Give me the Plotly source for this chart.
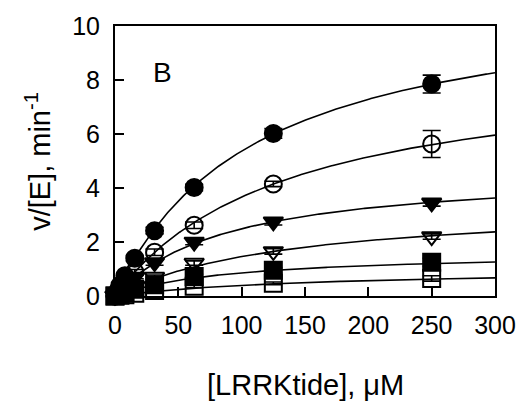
import numpy as np
import plotly.graph_objects as go

# substrate concentrations (uM)
conc = [0, 3.9, 7.8, 15.6, 31.25, 62.5, 125, 250]

# v/[E] values (min^-1) per series
filled_circle = [0.0, 0.40, 0.75, 1.40, 2.42, 4.02, 6.02, 7.85]
open_circle = [0.0, 0.25, 0.48, 0.90, 1.62, 2.62, 4.15, 5.63]
filled_tri = [0.0, 0.20, 0.38, 0.70, 1.24, 2.00, 2.75, 3.45]
open_tri = [0.0, 0.10, 0.19, 0.36, 0.70, 1.22, 1.65, 2.20]
filled_sq = [0.0, 0.07, 0.13, 0.25, 0.42, 0.72, 0.95, 1.25]
open_sq = [0.0, 0.03, 0.05, 0.10, 0.20, 0.36, 0.47, 0.65]

# error bars
err_fc = [0.05, 0.05, 0.08, 0.10, 0.12, 0.12, 0.18, 0.33]
err_oc = [0.05, 0.05, 0.06, 0.08, 0.12, 0.12, 0.10, 0.50]
err_ft = [0.05, 0.05, 0.05, 0.06, 0.10, 0.10, 0.12, 0.12]
err_ot = [0.03, 0.03, 0.04, 0.05, 0.08, 0.08, 0.10, 0.10]
err_fs = [0.03, 0.03, 0.04, 0.05, 0.06, 0.08, 0.10, 0.15]
err_os = [0.03, 0.03, 0.03, 0.04, 0.05, 0.05, 0.05, 0.10]

# Michaelis-Menten fit parameters (Vmax, Km)
vmax = [11.33, 8.66, 4.71, 3.45, 1.64, 1.03]
km = [111, 136, 89, 136, 91, 161]

x_ticks = [0, 50, 100, 150, 200, 250, 300]
y_ticks = [0, 2, 4, 6, 8, 10]

series = [
    (filled_circle, err_fc, "circle"),
    (open_circle, err_oc, "circle-open"),
    (filled_tri, err_ft, "triangle-down"),
    (open_tri, err_ot, "triangle-down-open"),
    (filled_sq, err_fs, "square"),
    (open_sq, err_os, "square-open"),
]

fig = go.Figure()

xs = np.linspace(0, 300, 301)
for V, K in zip(vmax, km):
    fig.add_trace(go.Scatter(x=xs, y=V * xs / (K + xs), mode="lines",
                             line=dict(color="black", width=1.6),
                             showlegend=False, hoverinfo="skip"))

for ys, es, sym in series:
    fig.add_trace(go.Scatter(
        x=conc, y=ys, mode="markers",
        marker=dict(symbol=sym, size=17, color="black",
                    line=dict(color="black", width=2)),
        error_y=dict(type="data", array=es, visible=True, color="black",
                     thickness=1.6, width=9),
        showlegend=False, cliponaxis=False))

font_family = "Liberation Sans, Arial, sans-serif"

fig.update_layout(
    width=528, height=407,
    margin=dict(l=115, r=29, t=26, b=111),
    paper_bgcolor="white", plot_bgcolor="white",
    font=dict(family=font_family, color="black", size=25),
    xaxis=dict(range=[0, 300], tickvals=x_ticks,
               ticks="inside", ticklen=9, tickwidth=1.6, tickcolor="black",
               showline=True, linecolor="black", linewidth=2, mirror=True,
               showgrid=False, zeroline=False, ticklabelstandoff=6,
               tickfont=dict(size=25)),
    yaxis=dict(range=[0, 10], tickvals=y_ticks,
               ticks="inside", ticklen=9, tickwidth=1.6, tickcolor="black",
               showline=True, linecolor="black", linewidth=2, mirror=True,
               showgrid=False, zeroline=False, ticklabelstandoff=8,
               tickfont=dict(size=25)),
    annotations=[
        dict(text="B", x=0.096, y=0.826, xref="paper", yref="paper",
             xanchor="left", yanchor="middle", showarrow=False,
             font=dict(size=28)),
        dict(text="[LRRKtide], μM", x=0.5, y=-0.33, xref="paper", yref="paper",
             xanchor="center", yanchor="middle", showarrow=False,
             font=dict(size=29)),
        dict(text="v/[E], min<sup>-1</sup>", x=-0.203, y=0.5, xref="paper",
             yref="paper", xanchor="center", yanchor="middle", showarrow=False,
             textangle=-90, font=dict(size=29)),
    ],
)

fig.write_html("out.html")
